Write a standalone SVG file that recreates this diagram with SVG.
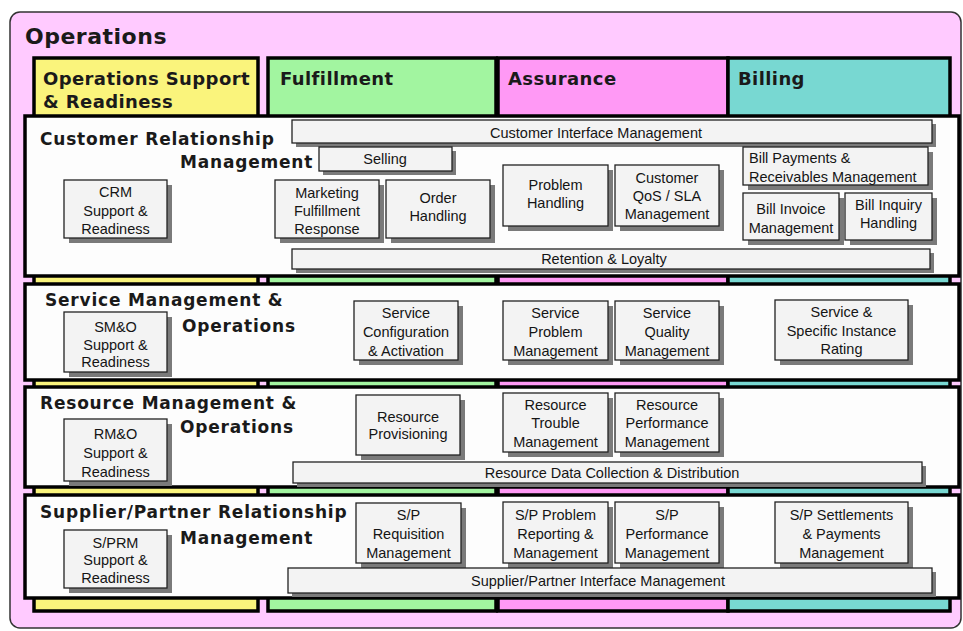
<svg xmlns="http://www.w3.org/2000/svg" width="963" height="631" viewBox="0 0 963 631">
<style>
.col{stroke:#000;stroke-width:3.5}
.row{fill:#fdfdfd;stroke:#000;stroke-width:3.5}
.sh{fill:#7a7a7a}
.box{fill:#f3f3f3;stroke:#222;stroke-width:1.3}
.t{font-family:"Liberation Sans",Arial,sans-serif;font-size:14.5px;fill:#151515;text-anchor:middle}
.tl{font-family:"Liberation Sans",Arial,sans-serif;font-size:14.5px;fill:#151515}
.h{font-family:"DejaVu Sans",Verdana,sans-serif;font-weight:bold;fill:#1a1a1a}
.rt{font-size:17px;letter-spacing:0.8px}
.ch{font-size:18px;letter-spacing:0.4px}
</style>
<rect width="963" height="631" fill="#fff"/>
<g id="operations">
<rect x="10" y="12" width="951" height="616" rx="10" fill="#ffcaff" stroke="#333" stroke-width="1.5"/>
<text class="h" x="25" y="44" font-size="22" letter-spacing="0.5">Operations</text>
</g>
<g id="col-osr"><rect class="col" x="34" y="58" width="224" height="553" fill="#faf47c"/><text class="h ch" x="43" y="85">Operations Support</text><text class="h ch" x="43" y="108">&amp; Readiness</text></g>
<g id="col-fulfillment"><rect class="col" x="268" y="58" width="228" height="553" fill="#a2f5a0"/><text class="h ch" x="280" y="85">Fulfillment</text></g>
<g id="col-assurance"><rect class="col" x="498" y="58" width="230" height="553" fill="#ff99f5"/><text class="h ch" x="508" y="85">Assurance</text></g>
<g id="col-billing"><rect class="col" x="728" y="58" width="222" height="553" fill="#78d8d2"/><text class="h ch" x="738" y="85">Billing</text></g>

<g id="row-crm"><rect class="row" x="25" y="116" width="934" height="160"/><text class="h rt" x="40" y="145">Customer Relationship</text><text class="h rt" x="180" y="168">Management</text></g>
<g id="row-smo"><rect class="row" x="25" y="284" width="934" height="96"/><text class="h rt" x="45" y="306">Service Management &amp;</text><text class="h rt" x="182" y="332">Operations</text></g>
<g id="row-rmo"><rect class="row" x="25" y="387" width="934" height="100"/><text class="h rt" x="40" y="409">Resource Management &amp;</text><text class="h rt" x="180" y="433">Operations</text></g>
<g id="row-sprm"><rect class="row" x="25" y="495" width="934" height="103"/><text class="h rt" x="40" y="518">Supplier/Partner Relationship</text><text class="h rt" x="180" y="544">Management</text></g>

<!-- CRM row -->
<g id="cim"><rect class="sh" x="296" y="124" width="640" height="23"/><rect class="box" x="292" y="120" width="640" height="23"/><text class="t" x="596" y="138">Customer Interface Management</text></g>
<g id="selling"><rect class="sh" x="323" y="151" width="133" height="24"/><rect class="box" x="319" y="147" width="133" height="24"/><text class="t" x="385" y="164">Selling</text></g>
<g id="crm-sr"><rect class="sh" x="69" y="185" width="103" height="58"/><rect class="box" x="64" y="180" width="103" height="58"/><text class="t"><tspan x="115.5" y="197">CRM</tspan><tspan x="115.5" y="216">Support &amp;</tspan><tspan x="115.5" y="234">Readiness</tspan></text></g>
<g id="mfr"><rect class="sh" x="280" y="185" width="104" height="58"/><rect class="box" x="275" y="180" width="104" height="58"/><text class="t"><tspan x="327" y="198">Marketing</tspan><tspan x="327" y="216">Fulfillment</tspan><tspan x="327" y="234">Response</tspan></text></g>
<g id="order"><rect class="sh" x="391" y="185" width="104" height="58"/><rect class="box" x="386" y="180" width="104" height="58"/><text class="t"><tspan x="438" y="203">Order</tspan><tspan x="438" y="221">Handling</tspan></text></g>
<g id="problem"><rect class="sh" x="508" y="170" width="105" height="61"/><rect class="box" x="503" y="165" width="105" height="61"/><text class="t"><tspan x="555.5" y="190">Problem</tspan><tspan x="555.5" y="208">Handling</tspan></text></g>
<g id="qos"><rect class="sh" x="620" y="170" width="104" height="61"/><rect class="box" x="615" y="165" width="104" height="61"/><text class="t"><tspan x="667" y="183">Customer</tspan><tspan x="667" y="201">QoS / SLA</tspan><tspan x="667" y="219">Management</tspan></text></g>
<g id="bprm"><rect class="sh" x="748" y="152" width="185" height="38"/><rect class="box" x="743" y="147" width="185" height="38"/><text class="tl"><tspan x="749" y="163">Bill Payments &amp;</tspan><tspan x="749" y="182">Receivables Management</tspan></text></g>
<g id="invoice"><rect class="sh" x="748" y="198" width="96" height="47"/><rect class="box" x="743" y="193" width="96" height="47"/><text class="t"><tspan x="791" y="214">Bill Invoice</tspan><tspan x="791" y="233">Management</tspan></text></g>
<g id="inquiry"><rect class="sh" x="850" y="198" width="87" height="47"/><rect class="box" x="845" y="193" width="87" height="47"/><text class="t"><tspan x="888.5" y="210">Bill Inquiry</tspan><tspan x="888.5" y="228">Handling</tspan></text></g>
<g id="retention"><rect class="sh" x="296" y="253" width="638" height="20"/><rect class="box" x="292" y="249" width="638" height="20"/><text class="t" x="604" y="264">Retention &amp; Loyalty</text></g>

<!-- Service row -->
<g id="smo-sr"><rect class="sh" x="69" y="317" width="103" height="60"/><rect class="box" x="64" y="312" width="103" height="60"/><text class="t"><tspan x="115.5" y="332">SM&amp;O</tspan><tspan x="115.5" y="350">Support &amp;</tspan><tspan x="115.5" y="367">Readiness</tspan></text></g>
<g id="sca"><rect class="sh" x="359" y="306" width="104" height="59"/><rect class="box" x="354" y="301" width="104" height="59"/><text class="t"><tspan x="406" y="318">Service</tspan><tspan x="406" y="337">Configuration</tspan><tspan x="406" y="356">&amp; Activation</tspan></text></g>
<g id="spm"><rect class="sh" x="508" y="306" width="105" height="59"/><rect class="box" x="503" y="301" width="105" height="59"/><text class="t"><tspan x="555.5" y="318">Service</tspan><tspan x="555.5" y="337">Problem</tspan><tspan x="555.5" y="356">Management</tspan></text></g>
<g id="sqm"><rect class="sh" x="620" y="306" width="104" height="59"/><rect class="box" x="615" y="301" width="104" height="59"/><text class="t"><tspan x="667" y="318">Service</tspan><tspan x="667" y="337">Quality</tspan><tspan x="667" y="356">Management</tspan></text></g>
<g id="ssir"><rect class="sh" x="780" y="305" width="133" height="60"/><rect class="box" x="775" y="300" width="133" height="60"/><text class="t"><tspan x="841.5" y="317">Service &amp;</tspan><tspan x="841.5" y="336">Specific Instance</tspan><tspan x="841.5" y="354">Rating</tspan></text></g>

<!-- Resource row -->
<g id="rmo-sr"><rect class="sh" x="69" y="424" width="103" height="62"/><rect class="box" x="64" y="419" width="103" height="62"/><text class="t"><tspan x="115.5" y="439">RM&amp;O</tspan><tspan x="115.5" y="458">Support &amp;</tspan><tspan x="115.5" y="477">Readiness</tspan></text></g>
<g id="rp"><rect class="sh" x="361" y="400" width="104" height="60"/><rect class="box" x="356" y="395" width="104" height="60"/><text class="t"><tspan x="408" y="422">Resource</tspan><tspan x="408" y="439">Provisioning</tspan></text></g>
<g id="rtm"><rect class="sh" x="508" y="398" width="105" height="59"/><rect class="box" x="503" y="393" width="105" height="59"/><text class="t"><tspan x="555.5" y="410">Resource</tspan><tspan x="555.5" y="428">Trouble</tspan><tspan x="555.5" y="447">Management</tspan></text></g>
<g id="rpm"><rect class="sh" x="620" y="398" width="104" height="59"/><rect class="box" x="615" y="393" width="104" height="59"/><text class="t"><tspan x="667" y="410">Resource</tspan><tspan x="667" y="428">Performance</tspan><tspan x="667" y="447">Management</tspan></text></g>
<g id="rdcd"><rect class="sh" x="297" y="466" width="629" height="21"/><rect class="box" x="293" y="462" width="629" height="21"/><text class="t" x="612" y="478">Resource Data Collection &amp; Distribution</text></g>

<!-- Supplier row -->
<g id="sprm-sr"><rect class="sh" x="69" y="535" width="103" height="58"/><rect class="box" x="64" y="530" width="103" height="58"/><text class="t"><tspan x="115.5" y="548">S/PRM</tspan><tspan x="115.5" y="565">Support &amp;</tspan><tspan x="115.5" y="583">Readiness</tspan></text></g>
<g id="sprq"><rect class="sh" x="361" y="508" width="105" height="60"/><rect class="box" x="356" y="503" width="105" height="60"/><text class="t"><tspan x="408.5" y="520">S/P</tspan><tspan x="408.5" y="539">Requisition</tspan><tspan x="408.5" y="558">Management</tspan></text></g>
<g id="spprm"><rect class="sh" x="508" y="507" width="105" height="61"/><rect class="box" x="503" y="502" width="105" height="61"/><text class="t"><tspan x="555.5" y="520">S/P Problem</tspan><tspan x="555.5" y="539">Reporting &amp;</tspan><tspan x="555.5" y="558">Management</tspan></text></g>
<g id="sppm"><rect class="sh" x="620" y="507" width="104" height="61"/><rect class="box" x="615" y="502" width="104" height="61"/><text class="t"><tspan x="667" y="520">S/P</tspan><tspan x="667" y="539">Performance</tspan><tspan x="667" y="558">Management</tspan></text></g>
<g id="spsp"><rect class="sh" x="780" y="507" width="133" height="61"/><rect class="box" x="775" y="502" width="133" height="61"/><text class="t"><tspan x="841.5" y="520">S/P Settlements</tspan><tspan x="841.5" y="539">&amp; Payments</tspan><tspan x="841.5" y="558">Management</tspan></text></g>
<g id="spim"><rect class="sh" x="292" y="572" width="644" height="25"/><rect class="box" x="288" y="568" width="644" height="25"/><text class="t" x="598" y="586">Supplier/Partner Interface Management</text></g>
</svg>
